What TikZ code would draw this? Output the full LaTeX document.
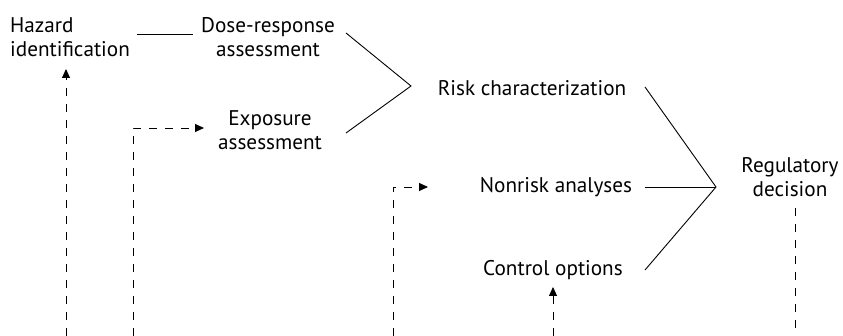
\documentclass[tikz,border=0pt]{standalone}
\usepackage{fontspec}
\setmainfont{PT Sans}
\usetikzlibrary{arrows.meta}
\begin{document}
\begin{tikzpicture}[x=1pt,y=-1pt,
  lbl/.style={inner sep=0pt,align=center,font=\fontsize{21.2}{24}\selectfont},
  solidline/.style={line width=0.9pt},
  dashline/.style={line width=0.9pt,dash pattern=on 8pt off 8pt},
  tip/.style={-{Triangle[length=9pt,width=8pt]}}]
\useasboundingbox (0,0) rectangle (843,336);
% nodes
\node[lbl,align=left,anchor=west] (haz) at (10,37) {Hazard\\identification};
\node[lbl] (dose) at (268,37) {Dose-response\\assessment};
\node[lbl] (expo) at (270,130) {Exposure\\assessment};
\node[lbl] (risk) at (532,88) {Risk characterization};
\node[lbl] (nonrisk) at (556,187) {Nonrisk analyses};
\node[lbl] (ctrl) at (553,270) {Control options};
\node[lbl] (reg) at (790,177) {Regulatory\\decision};
% junction coordinates
\coordinate (j1) at (411,86);
\coordinate (j2) at (716,187);
\coordinate (hzA) at (137,34);
\coordinate (hzB) at (193,34);
\coordinate (dA) at (346,33);
\coordinate (eA) at (346,133);
\coordinate (rA) at (645,87);
\coordinate (nA) at (645,187);
\coordinate (cA) at (645,270);
% solid connectors
\draw[solidline] (hzA) -- (hzB);
\draw[solidline] (dA) -- (j1) -- (eA);
\draw[solidline] (rA) -- (j2) -- (cA);
\draw[solidline] (nA) -- (j2);
% dashed feedback lines
\coordinate (b1) at (66,336);
\coordinate (t1) at (66,69);
\coordinate (b2) at (133,336);
\coordinate (c2) at (133,128);
\coordinate (t2) at (204,128);
\coordinate (b3) at (393,336);
\coordinate (c3) at (393,187);
\coordinate (t3) at (428,187);
\coordinate (b4) at (553,336);
\coordinate (t4) at (553,287);
\coordinate (b5) at (795,336);
\coordinate (t5) at (795,208);
\draw[dashline,tip] (b1) -- (t1);
\draw[dashline,tip] (b2) -- (c2) -- (t2);
\draw[dashline,tip] (b3) -- (c3) -- (t3);
\draw[dashline,tip] (b4) -- (t4);
\draw[dashline] (t5) -- (b5);
\end{tikzpicture}
\end{document}
